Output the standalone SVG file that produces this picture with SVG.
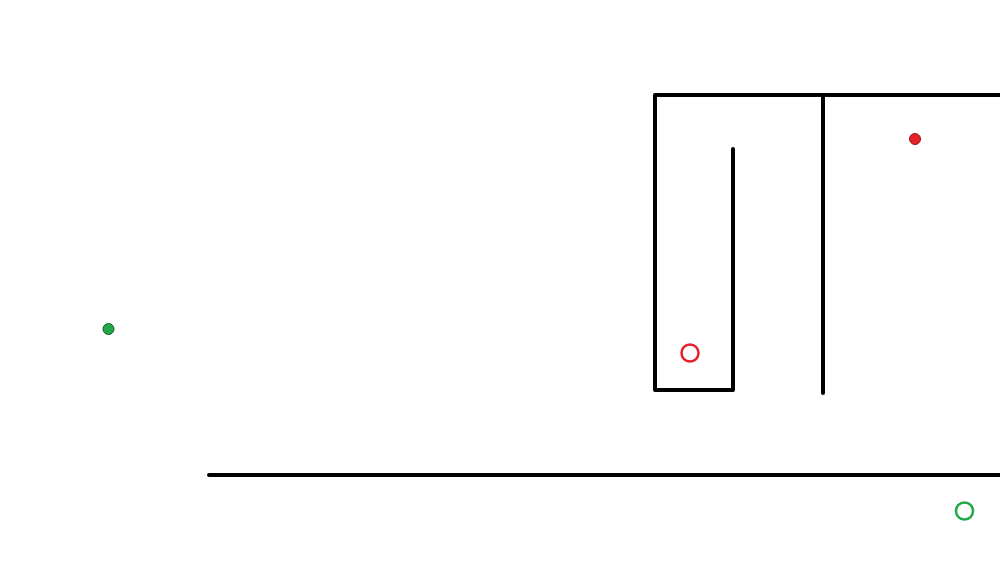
<svg xmlns="http://www.w3.org/2000/svg" width="1000" height="562" viewBox="0 0 1000 562">
<style>
.wall{stroke:#000;stroke-width:4;fill:none;stroke-linecap:round;stroke-linejoin:round}
.ring{fill:none;stroke-width:2.5}
</style>
<rect width="1000" height="562" fill="#fff"/>
<g id="walls">
<polyline class="wall" points="1002,95 655,95 655,390 733,390 733,149"/>
<line class="wall" x1="823" y1="95" x2="823" y2="393"/>
<line class="wall" x1="209" y1="475" x2="1002" y2="475"/>
</g>
<g id="markers">
<circle cx="108.5" cy="329" r="5.5" fill="#22a846" stroke="#1a5a2a" stroke-width="1"/>
<circle cx="915" cy="139" r="5.5" fill="#e8202a" stroke="#8a1a1a" stroke-width="1"/>
<circle class="ring" cx="690" cy="353" r="8.5" stroke="#e8202a"/>
<circle class="ring" cx="964.5" cy="511" r="8.5" stroke="#22a846"/>
</g>
</svg>
